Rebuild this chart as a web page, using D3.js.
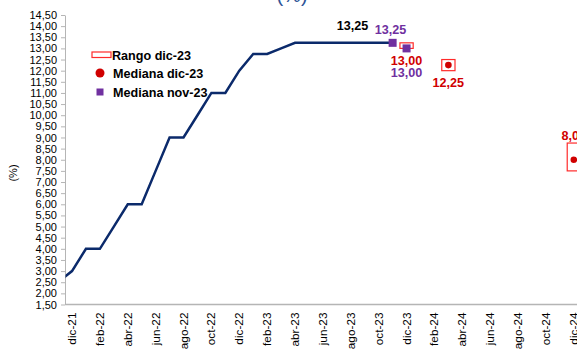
<!DOCTYPE html>
<html>
<head>
<meta charset="utf-8">
<script src="https://cdn.jsdelivr.net/npm/d3@7"></script>
<style>
  html, body { margin: 0; padding: 0; background: #fff; }
  svg { display: block; font-family: "Liberation Sans", Arial, sans-serif; }
</style>
</head>
<body>
<svg id="chart" width="577" height="352"></svg>
<script>
// Month categories on the x axis (nov-21 through dic-24)
const months = ['nov-21','dic-21','ene-22','feb-22','mar-22','abr-22','may-22','jun-22','jul-22','ago-22','sep-22','oct-22','nov-22',
  'dic-22','ene-23','feb-23','mar-23','abr-23','may-23','jun-23','jul-23','ago-23','sep-23','oct-23','nov-23',
  'dic-23','ene-24','feb-24','mar-24','abr-24','may-24','jun-24','jul-24','ago-24','sep-24','oct-24','nov-24','dic-24'];

// Labelled ticks (every second month)
const tickLabels = ['dic-21','feb-22','abr-22','jun-22','ago-22','oct-22','dic-22','feb-23','abr-23','jun-23','ago-23','oct-23',
  'dic-23','feb-24','abr-24','jun-24','ago-24','oct-24','dic-24'];

// Policy rate, nov-21 .. nov-23 (%)
const rateMonths = months.slice(0, 25);
const policyRate = [2.50, 3.00, 4.00, 4.00, 5.00, 6.00, 6.00, 7.50, 9.00, 9.00, 10.00, 11.00, 11.00,
  12.00, 12.75, 12.75, 13.00, 13.25, 13.25, 13.25, 13.25, 13.25, 13.25, 13.25, 13.25];

// Survey medians and range
const medianNovMonths = ['nov-23', 'dic-23'];
const medianNovValues = [13.25, 13.00];
const medianDicMonths = ['dic-23', 'mar-24', 'dic-24'];
const medianDicValues = [13.00, 12.25, 8.00];
const rangeMonths = ['dic-23', 'mar-24', 'dic-24'];
const rangeLow = [13.00, 12.00, 7.50];
const rangeHigh = [13.25, 12.50, 8.75];

// Y-axis ticks
const yTicks = d3.range(1.5, 14.51, 0.5);

const RED = '#D00000';
const BOX_RED = '#FF2A2A';
const PURPLE = '#7030A0';
const NAVY = '#0B2A6B';
const AXIS = '#B5B5B5';

const fmt = d3.formatLocale({decimal: ',', thousands: '.', grouping: [3], currency: ['', '']}).format('.2f');

const svg = d3.select('#chart');
const plotLeft = 65, plotBottom = 304.5, plotTop = 15;

const step = 13.94;
const x = d3.scalePoint().domain(months).range([72 - step, 72 + 36 * step]);
const y = d3.scaleLinear().domain([1.5, 14.5]).range([plotBottom, plotTop]);

// Title (mostly above the visible area)
svg.append('text').attr('x', 292).attr('y', 2).attr('text-anchor', 'middle')
  .attr('font-size', 20).attr('fill', '#2F5597').text('(%)');

// Y axis
const yAxis = svg.append('g').attr('transform', `translate(${plotLeft},0)`)
  .call(d3.axisLeft(y).tickValues(yTicks).tickFormat(fmt).tickSize(4).tickSizeOuter(0).tickPadding(4));
yAxis.select('.domain').attr('stroke', AXIS);
yAxis.selectAll('.tick line').attr('stroke', AXIS);
yAxis.selectAll('.tick text').attr('font-size', 11).attr('fill', '#000')
  .attr('font-family', '"Liberation Sans", Arial, sans-serif');

// Y axis title
svg.append('text').attr('transform', 'translate(17,173) rotate(-90)').attr('text-anchor', 'middle')
  .attr('font-size', 11).attr('fill', '#000').text('(%)');

// X axis
svg.append('line').attr('x1', plotLeft).attr('x2', 600).attr('y1', plotBottom).attr('y2', plotBottom)
  .attr('stroke', AXIS).attr('stroke-width', 1.5);
svg.append('g').selectAll('text').data(tickLabels).join('text')
  .attr('transform', d => `translate(${x(d) + 4},${plotBottom + 8}) rotate(-90)`)
  .attr('text-anchor', 'end').attr('font-size', 11.8).attr('fill', '#000').text(d => d);

// Clip to the plot area
svg.append('clipPath').attr('id', 'plot').append('rect')
  .attr('x', plotLeft + 0.5).attr('y', 0).attr('width', 600).attr('height', plotBottom);

// Policy-rate line
const line = d3.line().x((d, i) => x(rateMonths[i])).y(d => y(d));
svg.append('path').datum(policyRate).attr('clip-path', 'url(#plot)')
  .attr('d', line).attr('fill', 'none').attr('stroke', NAVY).attr('stroke-width', 2.5)
  .attr('stroke-linejoin', 'miter');

// Range boxes
const boxW = step * 0.95;
svg.append('g').selectAll('rect').data(rangeMonths).join('rect')
  .attr('x', d => x(d) - boxW / 2)
  .attr('y', (d, i) => y(rangeHigh[i]))
  .attr('width', boxW)
  .attr('height', (d, i) => y(rangeLow[i]) - y(rangeHigh[i]))
  .attr('fill', '#fff').attr('stroke', BOX_RED).attr('stroke-width', 1.2);

// Median dic-23 dots
svg.append('g').selectAll('circle').data(medianDicMonths).join('circle')
  .attr('cx', d => x(d)).attr('cy', (d, i) => y(medianDicValues[i])).attr('r', 3.3).attr('fill', RED);

// Median nov-23 squares
const sq = 8;
svg.append('g').selectAll('rect').data(medianNovMonths).join('rect')
  .attr('x', d => x(d) - sq / 2).attr('y', (d, i) => y(medianNovValues[i]) - sq / 2)
  .attr('width', sq).attr('height', sq).attr('fill', PURPLE);

// Value labels
const lbl = (px, py, txt, color) => svg.append('text').attr('x', px).attr('y', py)
  .attr('text-anchor', 'middle').attr('font-size', 12.6).attr('font-weight', 'bold')
  .attr('fill', color).text(txt);

const lastIdx = policyRate.length - 1;
lbl(x(rateMonths[lastIdx]) - 40, y(policyRate[lastIdx]) - 12.5, fmt(policyRate[lastIdx]), '#000');
lbl(x(medianNovMonths[0]) - 2, y(medianNovValues[0]) - 8.5, fmt(medianNovValues[0]), PURPLE);
lbl(x(medianDicMonths[0]), y(medianDicValues[0]) + 16.5, fmt(medianDicValues[0]), RED);
lbl(x(medianNovMonths[1]), y(medianNovValues[1]) + 29, fmt(medianNovValues[1]), PURPLE);
lbl(x(medianDicMonths[1]), y(rangeLow[1]) + 16, fmt(medianDicValues[1]), RED);
lbl(x(medianDicMonths[2]), y(rangeHigh[2]) - 3, fmt(medianDicValues[2]), RED);

// Legend
const lg = svg.append('g').attr('font-size', 12.6).attr('font-weight', 'bold').attr('fill', '#000');
lg.append('rect').attr('x', 92).attr('y', 52).attr('width', 19).attr('height', 5.5)
  .attr('fill', '#fff').attr('stroke', BOX_RED).attr('stroke-width', 1.2);
lg.append('text').attr('x', 112).attr('y', 59.5).text('Rango dic-23');
lg.append('circle').attr('cx', 100).attr('cy', 73).attr('r', 4.5).attr('fill', RED);
lg.append('text').attr('x', 113).attr('y', 77.5).text('Mediana dic-23');
lg.append('rect').attr('x', 96.5).attr('y', 88.5).attr('width', 7).attr('height', 7).attr('fill', PURPLE);
lg.append('text').attr('x', 113).attr('y', 96.5).text('Mediana nov-23');
</script>
</body>
</html>
